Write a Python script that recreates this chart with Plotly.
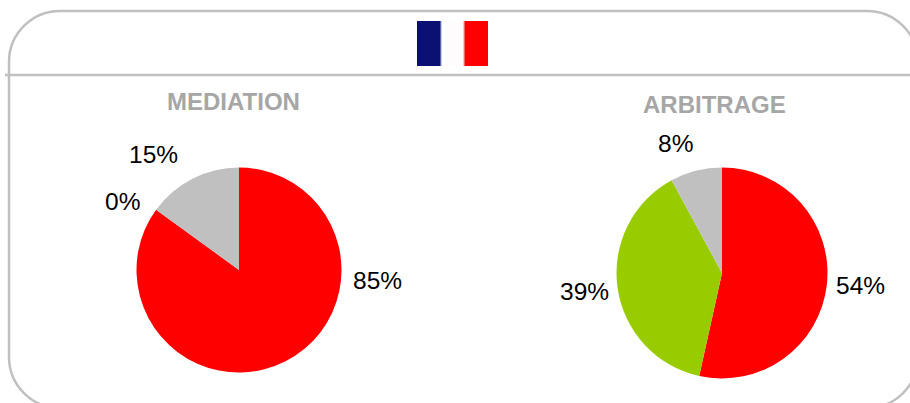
import plotly.graph_objects as go

W, H = 910, 403
titles = ["MEDIATION", "ARBITRAGE"]
slices = ["Red", "Green", "Grey"]
colors = ["#FF0000", "#99CC00", "#C0C0C0"]
mediation_values = [85, 0, 15]
arbitrage_values = [54, 39, 8]
flag_colors = ["#0A1172", "#5A64A8", "#C4CAE8", "#FFFCFD", "#F8C8C8", "#F56060", "#FF0000"]

LINE = "#C0C0C0"
FONT = "Liberation Sans, Arial, sans-serif"


def px(x):
    return x / W


def py(y):
    return 1 - y / H


def pie(values, cx, cy, r):
    return go.Pie(
        labels=slices, values=values, sort=False, direction="clockwise", rotation=0,
        marker=dict(colors=colors, line=dict(width=0)), textinfo="none", hoverinfo="label+value",
        showlegend=False, hole=0,
        domain=dict(x=[px(cx - r), px(cx + r)], y=[py(cy + r), py(cy - r)]),
    )


fig = go.Figure([pie(mediation_values, 239, 270, 102.5), pie(arbitrage_values, 722, 273, 105.5)])

# Rounded panel outline, running past the page's right and bottom edges
L, T, R, B, rad = 9, 11, 918, 408, 51
k = rad * 0.448
panel = (
    f"M {px(L)} {py(T + rad)} C {px(L)} {py(T + k)} {px(L + k)} {py(T)} {px(L + rad)} {py(T)} "
    f"L {px(R - rad)} {py(T)} C {px(R - k)} {py(T)} {px(R)} {py(T + k)} {px(R)} {py(T + rad)} "
    f"L {px(R)} {py(B - rad)} C {px(R)} {py(B - k)} {px(R - k)} {py(B)} {px(R - rad)} {py(B)} "
    f"L {px(L + rad)} {py(B)} C {px(L + k)} {py(B)} {px(L)} {py(B - k)} {px(L)} {py(B - rad)} Z"
)
shapes = [
    dict(type="path", xref="paper", yref="paper", path=panel, line=dict(color=LINE, width=2.5)),
    dict(type="line", xref="paper", yref="paper", x0=px(5), x1=1, y0=py(75), y1=py(75),
         line=dict(color=LINE, width=2.5)),
]
# Flag stripes with soft edges
stripes = [(417, 440), (440, 441), (441, 442), (442, 463), (463, 464), (464, 465), (465, 488)]
for c, (x0, x1) in zip(flag_colors, stripes):
    shapes.append(dict(type="rect", xref="paper", yref="paper", x0=px(x0), x1=px(x1),
                       y0=py(66), y1=py(21), fillcolor=c, line=dict(width=0), layer="above"))

annotations = []
for t, (x, y) in zip(titles, [(233.5, 101.5), (714, 104)]):
    annotations.append(dict(text=f"<b>{t}</b>", x=px(x), y=py(y), xref="paper", yref="paper", showarrow=False,
                            font=dict(family=FONT, size=24, color="#A6A6A6"), xanchor="center", yanchor="middle"))
label_pos = [
    (mediation_values, [(377.5, 280), (122.5, 202), (153.5, 154)]),
    (arbitrage_values, [(860.5, 285), (584, 291), (675.5, 143)]),
]
for vals, pos in label_pos:
    for v, (x, y) in zip(vals, pos):
        annotations.append(dict(text=f"{v}%", x=px(x), y=py(y), xref="paper", yref="paper", showarrow=False,
                                font=dict(family=FONT, size=24.5, color="#000000"), xanchor="center", yanchor="middle"))

fig.update_layout(
    width=W, height=H, margin=dict(l=0, r=0, t=0, b=0),
    paper_bgcolor="#FFFFFF", plot_bgcolor="#FFFFFF",
    shapes=shapes, annotations=annotations,
)
fig.write_html("out.html", config=dict(displayModeBar=False),
               post_script="document.body.style.margin='0';document.documentElement.style.overflow='hidden';")
